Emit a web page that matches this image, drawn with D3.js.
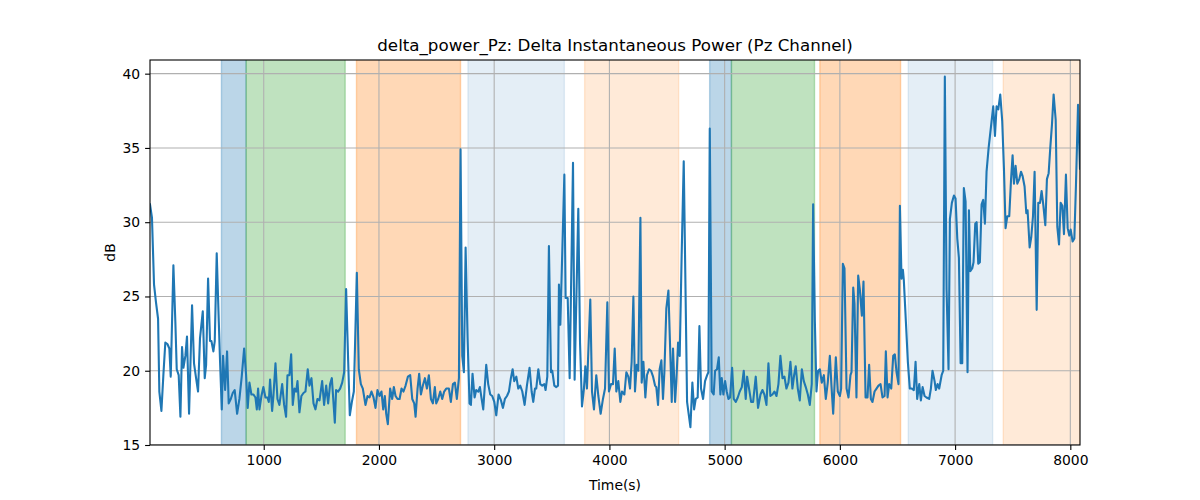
<!DOCTYPE html>
<html>
<head>
<meta charset="utf-8">
<title>delta_power_Pz</title>
<script src="https://cdn.jsdelivr.net/npm/d3@7"></script>
<style>
    body { margin: 0; background: #fff; }
    svg { display: block; font-family: "DejaVu Sans", sans-serif; }
</style>
</head>
<body>
<svg id="chart"></svg>
<script>
// time stamps (s) of the delta power trace
var timeSec = [13, 30, 48, 65, 83, 94, 112, 129, 146, 164, 181, 193, 216, 233, 245, 262, 277, 291, 303, 320,
    334, 352, 378, 395, 413, 430, 447, 471, 488, 500, 517, 534, 546, 563, 575, 592, 610, 621, 636, 647,
    665, 682, 696, 714, 731, 748, 769, 789, 809, 830, 847, 861, 876, 893, 911, 928, 940, 951, 963, 980,
    997, 1015, 1032, 1044, 1055, 1073, 1084, 1102, 1119, 1136, 1160, 1177, 1194, 1206, 1223, 1238, 1252, 1267, 1281, 1293,
    1310, 1327, 1345, 1362, 1382, 1397, 1414, 1432, 1449, 1466, 1484, 1507, 1524, 1542, 1559, 1576, 1591, 1605, 1617, 1628,
    1646, 1663, 1681, 1698, 1715, 1733, 1747, 1765, 1782, 1793, 1808, 1825, 1843, 1860, 1883, 1901, 1918, 1935, 1953, 1970,
    1987, 2005, 2022, 2037, 2051, 2063, 2077, 2097, 2115, 2129, 2144, 2161, 2179, 2196, 2213, 2231, 2251, 2271, 2289, 2306,
    2318, 2335, 2349, 2364, 2381, 2399, 2416, 2433, 2451, 2468, 2485, 2497, 2514, 2532, 2549, 2566, 2584, 2607, 2624, 2642,
    2659, 2676, 2694, 2708, 2723, 2737, 2752, 2769, 2786, 2798, 2812, 2830, 2844, 2862, 2876, 2891, 2905, 2931, 2948, 2966,
    2983, 3001, 3018, 3038, 3059, 3076, 3093, 3111, 3128, 3145, 3160, 3174, 3192, 3209, 3226, 3244, 3264, 3284, 3307, 3325,
    3339, 3354, 3365, 3383, 3400, 3417, 3435, 3446, 3461, 3475, 3493, 3504, 3522, 3539, 3554, 3562, 3574, 3609, 3620, 3638,
    3655, 3684, 3698, 3730, 3745, 3762, 3779, 3791, 3805, 3834, 3849, 3866, 3886, 3904, 3924, 3944, 3962, 3982, 3996, 4014,
    4031, 4046, 4060, 4077, 4095, 4109, 4130, 4147, 4164, 4179, 4193, 4208, 4222, 4237, 4251, 4269, 4280, 4295, 4312, 4326,
    4344, 4361, 4379, 4396, 4407, 4422, 4436, 4451, 4465, 4477, 4494, 4512, 4529, 4541, 4552, 4570, 4581, 4596, 4610, 4627,
    4645, 4674, 4703, 4720, 4735, 4749, 4766, 4781, 4795, 4813, 4830, 4848, 4859, 4871, 4888, 4905, 4917, 4934, 4949, 4963,
    4975, 4989, 5004, 5018, 5033, 5047, 5065, 5079, 5097, 5114, 5131, 5149, 5166, 5183, 5195, 5212, 5230, 5247, 5270, 5290,
    5311, 5328, 5345, 5363, 5380, 5397, 5415, 5432, 5450, 5467, 5484, 5502, 5519, 5536, 5554, 5571, 5588, 5603, 5617, 5635,
    5652, 5670, 5687, 5704, 5722, 5739, 5756, 5768, 5783, 5797, 5811, 5826, 5843, 5861, 5878, 5895, 5913, 5927, 5942, 5965,
    5982, 6000, 6011, 6026, 6040, 6058, 6075, 6092, 6101, 6116, 6127, 6144, 6159, 6173, 6191, 6205, 6223, 6240, 6254, 6269,
    6283, 6301, 6318, 6335, 6353, 6370, 6388, 6399, 6414, 6428, 6446, 6463, 6477, 6492, 6509, 6521, 6535, 6547, 6555, 6573,
    6590, 6607, 6625, 6642, 6657, 6671, 6689, 6703, 6718, 6735, 6752, 6775, 6790, 6804, 6822, 6833, 6848, 6862, 6883, 6897,
    6911, 6926, 6943, 6955, 6972, 6990, 7004, 7019, 7033, 7048, 7062, 7076, 7091, 7108, 7120, 7132, 7149, 7160, 7175, 7187,
    7201, 7215, 7230, 7244, 7259, 7273, 7291, 7311, 7331, 7346, 7360, 7375, 7392, 7409, 7424, 7438, 7453, 7470, 7485, 7499,
    7511, 7525, 7540, 7557, 7572, 7586, 7603, 7618, 7629, 7647, 7661, 7676, 7690, 7708, 7722, 7737, 7751, 7765, 7783, 7797,
    7812, 7826, 7841, 7855, 7873, 7887, 7902, 7916, 7931, 7945, 7962, 7977, 7991, 8003, 8020, 8035, 8049, 8067, 8084];

// delta instantaneous power (dB), one value per time stamp
var deltaDb = [31.2, 30.3, 25.8, 24.6, 23.5, 18.6, 17.3, 19.7, 21.9, 21.8, 21.5, 19.6, 27.1, 23.3, 20.1, 19.7, 16.9, 21.6, 20.2, 21.0,
    22.3, 17.1, 24.4, 20.5, 19.5, 18.6, 22.2, 24.0, 19.5, 20.4, 26.2, 22.0, 22.0, 21.3, 22.0, 27.9, 23.3, 20.6, 17.4, 21.0,
    18.7, 21.3, 17.8, 18.1, 18.5, 18.7, 17.1, 18.1, 19.6, 21.5, 19.7, 17.5, 19.2, 18.4, 18.4, 18.2, 17.4, 18.8, 17.4, 18.3,
    18.9, 18.2, 18.2, 17.9, 19.4, 17.3, 18.3, 20.5, 18.1, 17.7, 19.1, 17.7, 16.9, 19.7, 19.7, 21.1, 17.7, 18.8, 18.6, 19.3,
    17.2, 18.3, 18.5, 18.6, 20.1, 19.0, 19.5, 17.8, 17.4, 18.1, 18.0, 19.3, 17.7, 19.0, 17.8, 19.1, 19.5, 17.9, 16.5, 18.7,
    18.6, 18.8, 19.2, 19.9, 25.5, 20.6, 17.0, 17.9, 18.6, 21.9, 26.6, 20.1, 19.1, 18.8, 17.7, 18.3, 18.2, 18.6, 18.2, 17.5,
    18.7, 18.3, 18.6, 17.4, 18.3, 17.1, 16.4, 18.8, 18.1, 18.9, 18.3, 18.1, 18.1, 18.8, 18.6, 19.0, 19.6, 19.7, 18.1, 17.8,
    16.9, 18.8, 19.8, 18.4, 19.0, 19.5, 18.8, 19.7, 18.1, 17.8, 18.9, 17.8, 18.1, 18.6, 18.1, 18.6, 18.8, 18.8, 17.9, 19.1,
    19.2, 18.1, 19.5, 34.9, 21.0, 19.9, 28.3, 22.2, 17.8, 17.7, 19.8, 18.2, 18.7, 18.6, 18.9, 18.1, 17.4, 20.4, 19.1, 18.4,
    18.3, 17.9, 17.0, 18.4, 18.0, 17.5, 18.1, 18.3, 18.6, 19.5, 20.1, 19.3, 19.6, 18.8, 19.0, 18.6, 17.7, 19.0, 20.2, 18.6,
    17.9, 18.8, 18.8, 20.1, 19.1, 19.0, 19.1, 18.7, 19.6, 28.4, 19.9, 20.0, 19.0, 18.9, 19.0, 25.8, 23.1, 33.2, 24.9, 24.9,
    19.5, 34.0, 19.4, 30.9, 21.9, 17.6, 18.8, 20.3, 18.8, 24.8, 18.6, 17.4, 19.7, 18.3, 17.1, 18.1, 18.8, 24.6, 18.6, 19.1,
    19.1, 21.5, 18.6, 19.3, 17.9, 18.6, 18.4, 19.9, 19.6, 18.8, 20.6, 25.0, 18.6, 20.4, 20.0, 30.3, 19.2, 20.6, 18.2, 19.7,
    20.1, 20.0, 19.6, 19.0, 18.9, 17.7, 20.1, 20.7, 18.1, 19.9, 24.2, 25.4, 21.0, 17.9, 21.5, 17.9, 19.3, 21.9, 21.0, 27.8,
    34.1, 17.9, 16.2, 19.2, 17.4, 18.1, 18.2, 23.0, 18.8, 18.1, 19.3, 19.7, 19.9, 36.3, 18.6, 18.4, 20.0, 20.1, 20.9, 18.4,
    19.5, 18.4, 19.3, 18.6, 18.1, 18.2, 20.2, 18.1, 17.9, 18.2, 18.6, 18.9, 20.0, 18.1, 19.6, 18.8, 17.9, 17.9, 19.6, 17.5,
    18.4, 18.7, 18.4, 17.7, 20.5, 18.3, 18.4, 18.6, 18.3, 19.1, 21.0, 19.5, 19.6, 18.8, 19.2, 20.6, 18.8, 19.7, 20.3, 18.8,
    18.0, 20.1, 19.3, 18.9, 18.4, 17.7, 19.1, 31.2, 23.3, 18.6, 20.0, 20.1, 19.2, 19.7, 18.1, 19.2, 21.0, 19.0, 17.1, 20.9,
    18.6, 18.3, 18.8, 27.2, 26.9, 18.8, 18.2, 19.7, 19.9, 25.6, 24.5, 18.2, 26.4, 25.5, 23.7, 26.0, 18.2, 18.2, 20.4, 18.1,
    17.9, 18.6, 18.8, 19.0, 19.1, 18.2, 18.3, 21.3, 18.2, 19.1, 18.8, 21.0, 21.1, 19.9, 19.1, 31.1, 26.2, 26.8, 26.1, 23.3,
    20.6, 18.8, 18.8, 18.7, 20.6, 18.1, 19.1, 18.0, 18.9, 18.3, 18.2, 18.1, 18.8, 20.0, 19.3, 18.7, 19.1, 18.8, 19.7, 20.0,
    39.8, 25.5, 20.1, 30.2, 31.3, 31.8, 31.6, 28.9, 27.6, 20.5, 20.5, 32.3, 31.4, 19.9, 30.8, 26.7, 26.9, 27.3, 29.9, 30.0,
    27.2, 27.3, 31.2, 31.5, 29.9, 33.4, 35.0, 36.4, 37.8, 35.8, 37.8, 37.6, 38.6, 36.8, 33.6, 29.6, 30.4, 30.4, 32.8, 34.5,
    32.6, 33.8, 32.6, 32.9, 33.4, 33.1, 32.4, 30.6, 30.8, 28.3, 29.0, 30.4, 33.4, 24.1, 31.3, 31.3, 32.1, 31.2, 29.8, 32.9,
    33.3, 35.0, 36.6, 38.6, 36.9, 29.7, 28.5, 31.3, 31.1, 29.2, 33.2, 29.6, 29.1, 29.5, 28.7, 28.9, 32.5, 37.9, 33.6];

// shaded epochs: start / end (s) and kind
var spanStart = [633, 847, 1805, 2772, 3785, 4870, 5059, 5826, 6593, 7418];
var spanEnd   = [847, 1707, 2708, 3609, 4601, 5059, 5780, 6527, 7326, 8084];
var spanKind  = ["blueStrong", "green", "orange", "blueFaint", "orangeFaint",
                 "blueStrong", "green", "orange", "blueFaint", "orangeFaint"];

var xTicks = [1000, 2000, 3000, 4000, 5000, 6000, 7000, 8000];
var yTicks = [15, 20, 25, 30, 35, 40];

var titleText = "delta_power_Pz: Delta Instantaneous Power (Pz Channel)";
var xLabel = "Time(s)";
var yLabel = "dB";

// colours for each kind of span (colour, opacity)
var spanStyle = {
    blueStrong:  ["#1f77b4", 0.3],
    green:       ["#2ca02c", 0.3],
    orange:      ["#ff7f0e", 0.3],
    blueFaint:   ["#1f77b4", 0.12],
    orangeFaint: ["#ff7f0e", 0.16]
};

var w = 1200, h = 500;
var plotLeft = 150, plotRight = 1080, plotTop = 60, plotBottom = 445;
var fontPx = 13.9;

var svg = d3.select("#chart").attr("width", w).attr("height", h);

var x = d3.scaleLinear().domain([13, 8084]).range([plotLeft, plotRight]);
var y = d3.scaleLinear().domain([15, 40.92]).range([plotBottom, plotTop]);

svg.append("defs").append("clipPath").attr("id", "plotclip")
    .append("rect")
    .attr("x", plotLeft).attr("y", plotTop)
    .attr("width", plotRight - plotLeft).attr("height", plotBottom - plotTop);

var plot = svg.append("g").attr("clip-path", "url(#plotclip)");

// shaded spans
plot.selectAll("rect.span")
    .data(spanStart)
    .enter()
    .append("rect")
    .attr("class", "span")
    .attr("x", function(d) { return x(d); })
    .attr("y", plotTop - 2)
    .attr("width", function(d, i) { return x(spanEnd[i]) - x(d); })
    .attr("height", plotBottom - plotTop + 4)
    .attr("fill", function(d, i) { return spanStyle[spanKind[i]][0]; })
    .attr("fill-opacity", function(d, i) { return spanStyle[spanKind[i]][1]; })
    .attr("stroke", function(d, i) { return spanStyle[spanKind[i]][0]; })
    .attr("stroke-opacity", function(d, i) { return spanStyle[spanKind[i]][1]; })
    .attr("stroke-width", 1.4);

// grid lines
plot.selectAll("line.vgrid")
    .data(xTicks)
    .enter()
    .append("line")
    .attr("class", "vgrid")
    .attr("x1", function(d) { return x(d); })
    .attr("x2", function(d) { return x(d); })
    .attr("y1", plotTop).attr("y2", plotBottom)
    .attr("stroke", "#b0b0b0").attr("stroke-width", 1.1);

plot.selectAll("line.hgrid")
    .data(yTicks)
    .enter()
    .append("line")
    .attr("class", "hgrid")
    .attr("x1", plotLeft).attr("x2", plotRight)
    .attr("y1", function(d) { return y(d); })
    .attr("y2", function(d) { return y(d); })
    .attr("stroke", "#b0b0b0").attr("stroke-width", 1.1);

// the trace
var line = d3.line()
    .x(function(d, i) { return x(timeSec[i]); })
    .y(function(d) { return y(d); });

plot.append("path")
    .datum(deltaDb)
    .attr("d", line)
    .attr("fill", "none")
    .attr("stroke", "#1f77b4")
    .attr("stroke-width", 2.1)
    .attr("stroke-linejoin", "round")
    .attr("stroke-linecap", "square");

// axes
var xAxis = svg.append("g")
    .attr("transform", "translate(0," + plotBottom + ")")
    .call(d3.axisBottom(x).tickValues(xTicks).tickFormat(d3.format("d")).tickSize(4.9).tickPadding(4.9));
var yAxis = svg.append("g")
    .attr("transform", "translate(" + plotLeft + ",0)")
    .call(d3.axisLeft(y).tickValues(yTicks).tickFormat(d3.format("d")).tickSize(4.9).tickPadding(4.9));

[xAxis, yAxis].forEach(function(a) {
    a.select(".domain").remove();
    a.attr("font-family", "DejaVu Sans").attr("font-size", fontPx);
    a.selectAll("line").attr("stroke", "#000").attr("stroke-width", 1.1);
    a.selectAll("text").attr("fill", "#000");
});

// frame
svg.append("rect")
    .attr("x", plotLeft).attr("y", plotTop)
    .attr("width", plotRight - plotLeft).attr("height", plotBottom - plotTop)
    .attr("fill", "none").attr("stroke", "#000").attr("stroke-width", 1.1);

// labels
svg.append("text")
    .attr("x", (plotLeft + plotRight) / 2).attr("y", 51)
    .attr("text-anchor", "middle")
    .attr("font-size", 16.7)
    .text(titleText);

svg.append("text")
    .attr("x", (plotLeft + plotRight) / 2).attr("y", 490)
    .attr("text-anchor", "middle")
    .attr("font-size", fontPx)
    .text(xLabel);

svg.append("text")
    .attr("transform", "translate(115," + (plotTop + plotBottom) / 2 + ") rotate(-90)")
    .attr("text-anchor", "middle")
    .attr("font-size", fontPx)
    .text(yLabel);
</script>
</body>
</html>
